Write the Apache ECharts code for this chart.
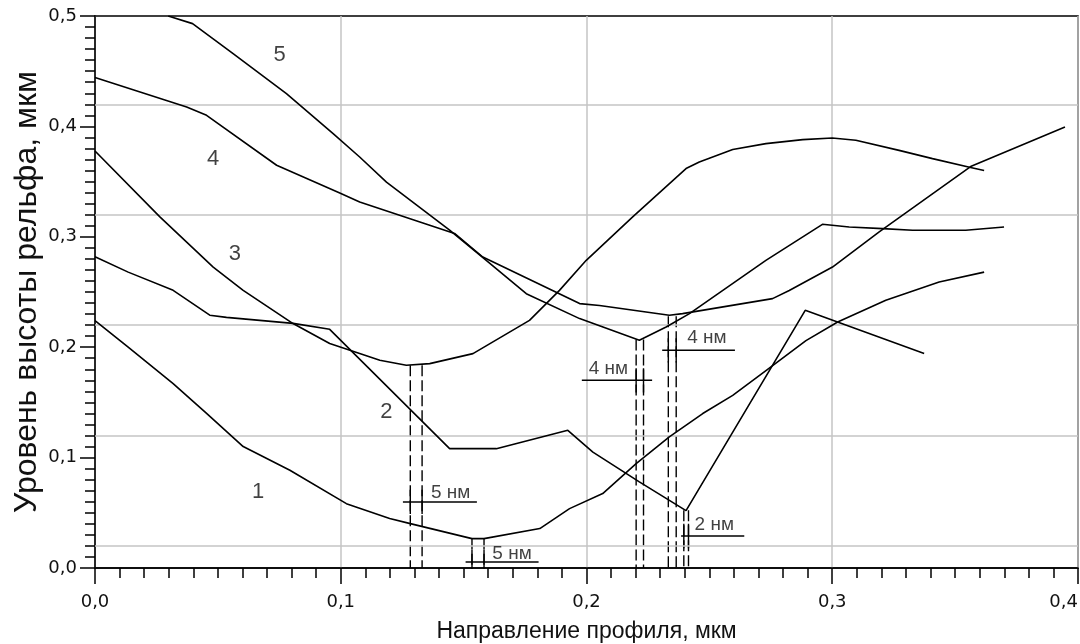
<!DOCTYPE html>
<html><head><meta charset="utf-8">
<script src="https://cdn.jsdelivr.net/npm/echarts@6/dist/echarts.min.js"></script>
<style>html,body{margin:0;padding:0;background:#fff}#c{width:1080px;height:644px}</style>
</head><body><div id="c"></div><script>
// ---- data (x in мкм, y in мкм) ----
const curve1 = [[0,0.224],[0.0135,0.200],[0.0318,0.167],[0.0454,0.140],[0.0603,0.110],[0.0793,0.0885],[0.1023,0.0583],[0.1199,0.0449],[0.1283,0.0402],[0.1534,0.0266],[0.1583,0.0266],[0.181,0.0357],[0.1931,0.0538],[0.2066,0.0674],[0.2202,0.0946],[0.2337,0.1187],[0.2473,0.1399],[0.2595,0.1564],[0.2737,0.180],[0.2893,0.206],[0.3022,0.2228],[0.3218,0.2425],[0.3435,0.259],[0.3618,0.268]];
const curve2 = [[0,0.282],[0.0135,0.268],[0.0318,0.2515],[0.0467,0.229],[0.0535,0.2270],[0.0806,0.2216],[0.0955,0.2162],[0.1443,0.1081],[0.1633,0.1081],[0.1924,0.1247],[0.2026,0.105],[0.2215,0.078],[0.2405,0.052],[0.289,0.2334],[0.3374,0.1942]];
const curve3 = [[0,0.3777],[0.0264,0.318],[0.0481,0.2726],[0.0603,0.2515],[0.0806,0.2214],[0.0955,0.2033],[0.1077,0.1942],[0.1159,0.1881],[0.1267,0.1836],[0.1362,0.1851],[0.1538,0.1942],[0.1768,0.2243],[0.189,0.2515],[0.1999,0.2787],[0.2188,0.318],[0.2405,0.3618],[0.2459,0.3678],[0.2595,0.379],[0.273,0.3844],[0.288,0.388],[0.3,0.3895],[0.3096,0.3874],[0.3272,0.3783],[0.3408,0.3708],[0.3563,0.3627],[0.3618,0.360]];
const curve4 = [[0,0.4442],[0.0373,0.4176],[0.0454,0.410],[0.0739,0.3648],[0.0996,0.3397],[0.1077,0.3315],[0.1463,0.303],[0.1578,0.2817],[0.1972,0.2395],[0.2053,0.2378],[0.2337,0.2289],[0.2391,0.2304],[0.2757,0.244],[0.2825,0.2514],[0.3001,0.2726],[0.3191,0.3044],[0.3563,0.3636],[0.3947,0.3995]];
const curve5 = [[0.0298,0.5],[0.0397,0.4931],[0.0562,0.466],[0.0779,0.4297],[0.0969,0.3935],[0.1077,0.3723],[0.1186,0.3496],[0.1443,0.306],[0.1592,0.2787],[0.1755,0.2485],[0.1972,0.2259],[0.2215,0.2063],[0.2324,0.2183],[0.2419,0.2304],[0.273,0.2787],[0.296,0.3113],[0.3069,0.3089],[0.3205,0.3074],[0.3327,0.3059],[0.3543,0.3059],[0.3699,0.3089]];
const xTicks = [0, 0.1, 0.2, 0.3, 0.4];
const yTicks = [0, 0.1, 0.2, 0.3, 0.4, 0.5];
const hGrid = [0.017, 0.116, 0.216, 0.316, 0.416];
const curveNames = ['1','2','3','4','5'];
const curveLabelX = [0.0664, 0.1186, 0.0569, 0.0481, 0.0751];
const curveLabelY = [0.0688, 0.1413, 0.2848, 0.3708, 0.4647];
// measurement annotations
const dashLeft  = [0.1283, 0.1534, 0.2202, 0.2333, 0.2396];
const dashRight = [0.1331, 0.1583, 0.2232, 0.2365, 0.2415];
const dashTop   = [0.1836, 0.0266, 0.2069, 0.2280, 0.0523];
const measY     = [0.0598, 0.0054, 0.1700, 0.1972, 0.0290];
const measFrom  = [0.1253, 0.1508, 0.1981, 0.2308, 0.2385];
const measTo    = [0.1554, 0.1805, 0.2267, 0.2604, 0.2642];
const measText  = ['5 нм','5 нм','4 нм','4 нм','2 нм'];
const measTextX = [0.1447, 0.1697, 0.2089, 0.2490, 0.2520];
const measTextY = [0.0677, 0.0133, 0.1809, 0.2081, 0.0396];

const fmt = v => v.toFixed(1).replace('.', ',');
const black = '#000';
const series = [];
// horizontal grid lines (offset, as in the source figure)
series.push({type:'line', data:[], z:1, silent:true,
  markLine:{silent:true, symbol:'none', label:{show:false}, animation:false,
    lineStyle:{color:'#c4c4c4', width:1.5, type:'solid'},
    data: hGrid.map(v => ({yAxis:v}))}});
[curve1,curve2,curve3,curve4,curve5].forEach((c,i)=>{
  series.push({type:'line', name:curveNames[i], data:c, symbol:'none', z:5, animation:false,
    lineStyle:{color:black, width:1.6}});
});
// dashed verticals
dashLeft.forEach((x,i)=>{
  [x, dashRight[i]].forEach(xx=>{
    series.push({type:'line', data:[[xx,dashTop[i]],[xx,0]], symbol:'none', z:4, animation:false,
      lineStyle:{color:black, width:1.4, type:[11,4]}});
    // small solid cross mark where the measure line passes
    series.push({type:'line', data:[[xx,measY[i]+0.011],[xx,measY[i]-0.011]], symbol:'none', z:4, animation:false,
      lineStyle:{color:black, width:1.4}});
  });
  series.push({type:'line', data:[[measFrom[i],measY[i]],[measTo[i],measY[i]]], symbol:'none', z:4, animation:false,
    lineStyle:{color:black, width:1.4}});
});
// text labels
series.push({type:'scatter', symbolSize:0, z:6, animation:false, silent:true,
  data: curveNames.map((n,i)=>({value:[curveLabelX[i],curveLabelY[i]], name:n})),
  label:{show:true, position:'inside', formatter:p=>p.name, color:'#111',
    fontFamily:'Liberation Sans, Arial', fontSize:22}});
series.push({type:'scatter', symbolSize:0, z:6, animation:false, silent:true,
  data: measText.map((t,i)=>({value:[measTextX[i],measTextY[i]], name:t})),
  label:{show:true, position:'inside', formatter:p=>p.name, color:'#111',
    fontFamily:'Liberation Sans, Arial', fontSize:19}});

const chart = echarts.init(document.getElementById('c'), null, {renderer:'canvas'});
chart.setOption({
  animation:false,
  backgroundColor:'#fff',
  grid:{left:95, right:2, top:16, bottom:76, outerBoundsMode:'none', containLabel:false,
    show:true, borderColor:black, borderWidth:1.5, backgroundColor:'transparent'},
  xAxis:{type:'value', min:xTicks[0], max:xTicks[xTicks.length-1], interval:0.1,
    name:'Направление профиля, мкм', nameLocation:'middle', nameGap:52,
    nameTextStyle:{fontFamily:'Liberation Sans, Arial', fontSize:23, color:'#111'},
    axisLine:{show:true, lineStyle:{color:black, width:1.5}},
    axisTick:{show:true, length:16, lineStyle:{color:black, width:1.5}},
    minorTick:{show:true, splitNumber:10, length:10, lineStyle:{color:black, width:1.5}},
    splitLine:{show:true, lineStyle:{color:'#c4c4c4', width:1.5}},
    axisLabel:{formatter:fmt, margin:25, fontFamily:'DejaVu Sans', fontSize:18, color:'#111', alignMaxLabel:'right'}},
  yAxis:{type:'value', min:yTicks[0], max:yTicks[yTicks.length-1], interval:0.1,
    name:'Уровень высоты рельфа, мкм', nameLocation:'middle', nameGap:52, nameRotate:90, nameMoveOverlap:false,
    nameTextStyle:{fontFamily:'Liberation Sans, Arial', fontSize:32, color:'#111'},
    axisLine:{show:true, lineStyle:{color:black, width:1.5}},
    axisTick:{show:true, length:15, lineStyle:{color:black, width:1.5}},
    minorTick:{show:true, splitNumber:10, length:10, lineStyle:{color:black, width:1.5}},
    splitLine:{show:false},
    axisLabel:{formatter:fmt, margin:18, fontFamily:'DejaVu Sans', fontSize:18, color:'#111'}},
  series: series
});
</script></body></html>
